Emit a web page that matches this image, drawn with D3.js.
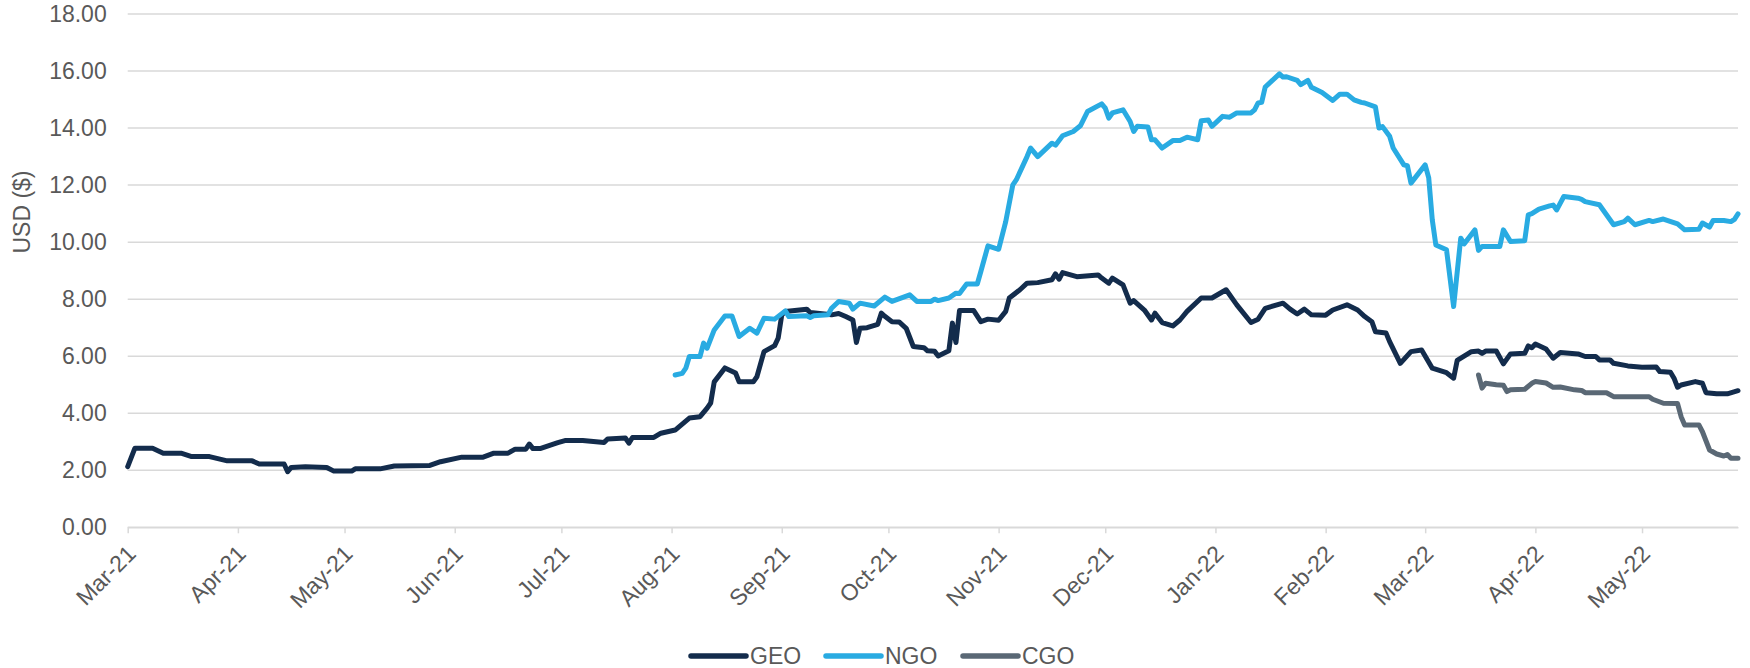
<!DOCTYPE html>
<html><head><meta charset="utf-8">
<script src="https://cdn.jsdelivr.net/npm/d3@7"></script>
<style>
html,body{margin:0;padding:0;background:#fff;}
svg{display:block;font-family:"Liberation Sans",Arial,sans-serif;}
</style></head>
<body>
<svg id="chart" width="1750" height="668"></svg>
<script>
const yTicks = [0,2,4,6,8,10,12,14,16,18];
const seriesNames = ["GEO","NGO","CGO"];
const seriesColors = ["#132c4c","#29abe2","#5a6875"];

const GEO = [["2021-03-01",2.13],["2021-03-03",2.77],["2021-03-08",2.77],["2021-03-11",2.6],["2021-03-16",2.6],["2021-03-19",2.48],["2021-03-24",2.48],["2021-03-29",2.33],["2021-04-05",2.33],["2021-04-07",2.22],["2021-04-14",2.22],["2021-04-15",1.95],["2021-04-16",2.1],["2021-04-20",2.12],["2021-04-26",2.1],["2021-04-28",1.97],["2021-05-03",1.97],["2021-05-04",2.05],["2021-05-11",2.05],["2021-05-15",2.15],["2021-05-25",2.17],["2021-05-28",2.3],["2021-06-03",2.46],["2021-06-09",2.46],["2021-06-12",2.6],["2021-06-16",2.6],["2021-06-18",2.74],["2021-06-21",2.74],["2021-06-22",2.92],["2021-06-23",2.76],["2021-06-25",2.76],["2021-06-30",2.97],["2021-07-02",3.04],["2021-07-07",3.04],["2021-07-13",2.97],["2021-07-14",3.1],["2021-07-19",3.13],["2021-07-20",2.95],["2021-07-21",3.15],["2021-07-27",3.15],["2021-07-29",3.3],["2021-08-02",3.41],["2021-08-06",3.83],["2021-08-09",3.88],["2021-08-11",4.18],["2021-08-12",4.36],["2021-08-13",5.1],["2021-08-16",5.59],["2021-08-19",5.41],["2021-08-20",5.1],["2021-08-24",5.1],["2021-08-25",5.28],["2021-08-27",6.16],["2021-08-30",6.37],["2021-08-31",6.64],["2021-09-01",7.45],["2021-09-02",7.57],["2021-09-08",7.65],["2021-09-09",7.53],["2021-09-15",7.45],["2021-09-17",7.5],["2021-09-19",7.39],["2021-09-21",7.27],["2021-09-22",6.48],["2021-09-23",6.98],["2021-09-25",7.0],["2021-09-28",7.12],["2021-09-29",7.51],["2021-09-30",7.4],["2021-10-02",7.21],["2021-10-04",7.2],["2021-10-06",6.98],["2021-10-08",6.34],["2021-10-11",6.3],["2021-10-12",6.19],["2021-10-14",6.17],["2021-10-15",6.01],["2021-10-18",6.19],["2021-10-19",7.16],["2021-10-20",6.48],["2021-10-21",7.6],["2021-10-25",7.6],["2021-10-27",7.21],["2021-10-29",7.3],["2021-11-01",7.26],["2021-11-03",7.57],["2021-11-04",8.04],["2021-11-07",8.33],["2021-11-09",8.56],["2021-11-12",8.58],["2021-11-16",8.68],["2021-11-17",8.89],["2021-11-18",8.7],["2021-11-19",8.93],["2021-11-23",8.79],["2021-11-29",8.85],["2021-11-30",8.74],["2021-12-02",8.56],["2021-12-03",8.74],["2021-12-06",8.5],["2021-12-08",7.86],["2021-12-09",7.95],["2021-12-12",7.62],["2021-12-14",7.27],["2021-12-15",7.51],["2021-12-17",7.18],["2021-12-20",7.06],["2021-12-22",7.27],["2021-12-24",7.57],["2021-12-28",8.04],["2021-12-31",8.04],["2022-01-04",8.33],["2022-01-07",7.8],["2022-01-11",7.18],["2022-01-13",7.3],["2022-01-15",7.68],["2022-01-20",7.86],["2022-01-22",7.65],["2022-01-24",7.48],["2022-01-26",7.65],["2022-01-28",7.45],["2022-02-01",7.44],["2022-02-03",7.62],["2022-02-07",7.8],["2022-02-10",7.62],["2022-02-12",7.39],["2022-02-14",7.21],["2022-02-15",6.86],["2022-02-18",6.81],["2022-02-19",6.51],["2022-02-22",5.75],["2022-02-25",6.16],["2022-02-28",6.22],["2022-03-03",5.58],["2022-03-07",5.42],["2022-03-09",5.23],["2022-03-10",5.85],["2022-03-14",6.16],["2022-03-16",6.18],["2022-03-17",6.1],["2022-03-18",6.18],["2022-03-21",6.18],["2022-03-23",5.73],["2022-03-25",6.08],["2022-03-29",6.1],["2022-03-30",6.36],["2022-03-31",6.3],["2022-04-01",6.43],["2022-04-04",6.25],["2022-04-06",5.93],["2022-04-08",6.13],["2022-04-13",6.08],["2022-04-15",5.99],["2022-04-18",5.99],["2022-04-19",5.87],["2022-04-22",5.87],["2022-04-23",5.75],["2022-04-27",5.66],["2022-05-01",5.61],["2022-05-05",5.62],["2022-05-06",5.46],["2022-05-09",5.44],["2022-05-10",5.23],["2022-05-11",4.91],["2022-05-12",4.99],["2022-05-16",5.11],["2022-05-18",5.05],["2022-05-19",4.72],["2022-05-22",4.68],["2022-05-25",4.68],["2022-05-28",4.79]];

const NGO = [["2021-08-02",5.34],["2021-08-04",5.4],["2021-08-05",5.58],["2021-08-06",5.99],["2021-08-09",5.99],["2021-08-10",6.46],["2021-08-11",6.28],["2021-08-13",6.92],["2021-08-16",7.41],["2021-08-18",7.41],["2021-08-20",6.69],["2021-08-23",6.98],["2021-08-25",6.81],["2021-08-27",7.33],["2021-08-30",7.3],["2021-09-02",7.59],["2021-09-03",7.39],["2021-09-08",7.42],["2021-09-09",7.36],["2021-09-10",7.42],["2021-09-14",7.45],["2021-09-15",7.68],["2021-09-17",7.92],["2021-09-20",7.86],["2021-09-21",7.65],["2021-09-23",7.86],["2021-09-27",7.76],["2021-09-30",8.07],["2021-10-02",7.92],["2021-10-07",8.15],["2021-10-09",7.92],["2021-10-13",7.92],["2021-10-14",8.0],["2021-10-15",7.95],["2021-10-18",8.04],["2021-10-20",8.21],["2021-10-21",8.2],["2021-10-23",8.53],["2021-10-26",8.53],["2021-10-27",8.97],["2021-10-29",9.87],["2021-11-01",9.75],["2021-11-03",10.72],["2021-11-05",12.01],["2021-11-06",12.19],["2021-11-09",13.0],["2021-11-10",13.3],["2021-11-12",13.0],["2021-11-16",13.47],["2021-11-17",13.4],["2021-11-19",13.73],["2021-11-22",13.88],["2021-11-24",14.08],["2021-11-26",14.58],["2021-11-30",14.85],["2021-12-01",14.7],["2021-12-02",14.35],["2021-12-03",14.53],["2021-12-06",14.64],["2021-12-08",14.23],["2021-12-09",13.88],["2021-12-10",14.06],["2021-12-13",14.04],["2021-12-14",13.59],["2021-12-15",13.59],["2021-12-17",13.3],["2021-12-20",13.56],["2021-12-22",13.56],["2021-12-24",13.68],["2021-12-27",13.59],["2021-12-28",14.26],["2021-12-30",14.28],["2021-12-31",14.06],["2022-01-03",14.41],["2022-01-05",14.38],["2022-01-07",14.53],["2022-01-11",14.53],["2022-01-12",14.64],["2022-01-13",14.88],["2022-01-14",14.9],["2022-01-15",15.44],["2022-01-19",15.9],["2022-01-20",15.79],["2022-01-21",15.8],["2022-01-24",15.67],["2022-01-25",15.52],["2022-01-27",15.67],["2022-01-28",15.43],["2022-01-31",15.25],["2022-02-03",14.97],["2022-02-05",15.19],["2022-02-07",15.19],["2022-02-09",14.99],["2022-02-11",14.9],["2022-02-12",14.88],["2022-02-15",14.74],["2022-02-16",14.0],["2022-02-17",14.05],["2022-02-19",13.71],["2022-02-20",13.3],["2022-02-23",12.71],["2022-02-24",12.68],["2022-02-25",12.07],["2022-03-01",12.71],["2022-03-02",12.25],["2022-03-03",10.78],["2022-03-04",9.9],["2022-03-07",9.73],["2022-03-09",7.74],["2022-03-11",10.14],["2022-03-12",9.94],["2022-03-15",10.43],["2022-03-16",9.71],["2022-03-17",9.85],["2022-03-22",9.85],["2022-03-23",10.43],["2022-03-25",10.02],["2022-03-29",10.05],["2022-03-30",10.96],["2022-03-31",11.0],["2022-04-02",11.16],["2022-04-05",11.27],["2022-04-06",11.3],["2022-04-07",11.13],["2022-04-09",11.6],["2022-04-13",11.54],["2022-04-14",11.5],["2022-04-15",11.42],["2022-04-19",11.31],["2022-04-21",10.96],["2022-04-23",10.61],["2022-04-26",10.72],["2022-04-27",10.84],["2022-04-29",10.61],["2022-05-03",10.76],["2022-05-04",10.72],["2022-05-07",10.81],["2022-05-11",10.64],["2022-05-13",10.43],["2022-05-17",10.45],["2022-05-18",10.67],["2022-05-20",10.53],["2022-05-21",10.76],["2022-05-24",10.76],["2022-05-26",10.72],["2022-05-27",10.8],["2022-05-28",10.99]];

const CGO = [["2022-03-16",5.34],["2022-03-17",4.88],["2022-03-18",5.05],["2022-03-21",5.0],["2022-03-23",4.98],["2022-03-24",4.76],["2022-03-25",4.82],["2022-03-29",4.84],["2022-03-31",5.05],["2022-04-01",5.11],["2022-04-04",5.06],["2022-04-06",4.91],["2022-04-08",4.92],["2022-04-12",4.82],["2022-04-14",4.8],["2022-04-15",4.72],["2022-04-21",4.72],["2022-04-23",4.58],["2022-05-03",4.58],["2022-05-04",4.49],["2022-05-07",4.35],["2022-05-11",4.34],["2022-05-12",3.88],["2022-05-13",3.59],["2022-05-17",3.59],["2022-05-18",3.35],["2022-05-20",2.71],["2022-05-22",2.57],["2022-05-24",2.5],["2022-05-25",2.55],["2022-05-26",2.42],["2022-05-28",2.42]];

const parse = d3.timeParse("%Y-%m-%d");
const seriesData = [GEO, NGO, CGO].map(s => s.map(([d,v]) => ({date: parse(d), value: v})));

const svg = d3.select("#chart");
const plotLeft = 127.7, plotRight = 1738, plotTop = 14, plotBottom = 527.3;

const x = d3.scaleTime()
  .domain([parse("2021-03-01"), parse("2022-05-28")])
  .range([plotLeft, plotRight]);
const y = d3.scaleLinear().domain([0, 18]).range([plotBottom, plotTop]);

const textColor = "#595959";
const gridColor = "#d9d9d9";

// gridlines
svg.append("g").selectAll("line").data(yTicks).join("line")
  .attr("x1", plotLeft).attr("x2", plotRight)
  .attr("y1", d => y(d)).attr("y2", d => y(d))
  .attr("stroke", gridColor).attr("stroke-width", 1.5);

// y axis labels
const yAxis = d3.axisLeft(y).tickValues(yTicks).tickFormat(d3.format(".2f")).tickSize(0).tickPadding(0);
const gy = svg.append("g").attr("transform", `translate(${plotLeft - 21},0)`).call(yAxis);
gy.select(".domain").remove();
gy.selectAll("text").attr("fill", textColor).style("font-size", "23px")
  .style("font-family", "'Liberation Sans', Arial, sans-serif");

// x axis
const xAxis = d3.axisBottom(x).ticks(d3.timeMonth.every(1)).tickFormat(d3.timeFormat("%b-%y")).tickSize(6).tickSizeOuter(0);
const gx = svg.append("g").attr("transform", `translate(0,${plotBottom})`).call(xAxis);
gx.select(".domain").attr("stroke", gridColor).attr("stroke-width", 1.5);
gx.selectAll(".tick line").attr("stroke", gridColor).attr("stroke-width", 1.5);
gx.selectAll(".tick text")
  .attr("fill", textColor).style("font-size", "23px")
  .style("font-family", "'Liberation Sans', Arial, sans-serif")
  .attr("text-anchor", "end")
  .attr("dy", null).attr("y", null)
  .attr("transform", "translate(9,28) rotate(-45)");

// y title
svg.append("text")
  .attr("transform", "translate(30,212) rotate(-90)")
  .attr("text-anchor", "middle")
  .attr("fill", textColor).style("font-size", "23px")
  .text("USD ($)");

// lines
const line = d3.line().x(d => x(d.date)).y(d => y(d.value));
svg.append("g").selectAll("path").data(seriesData).join("path")
  .attr("d", line)
  .attr("fill", "none")
  .attr("stroke", (d,i) => seriesColors[i])
  .attr("stroke-width", 5)
  .attr("stroke-linejoin", "round")
  .attr("stroke-linecap", "round");

// legend
const legendX = [691, 826, 963];
const lg = svg.append("g");
seriesNames.forEach((name, i) => {
  lg.append("line")
    .attr("x1", legendX[i]).attr("x2", legendX[i] + 55)
    .attr("y1", 656).attr("y2", 656)
    .attr("stroke", seriesColors[i]).attr("stroke-width", 5.5)
    .attr("stroke-linecap", "round");
  lg.append("text")
    .attr("x", legendX[i] + 59).attr("y", 664)
    .attr("fill", textColor).style("font-size", "23px")
    .text(name);
});
</script>
</body></html>
